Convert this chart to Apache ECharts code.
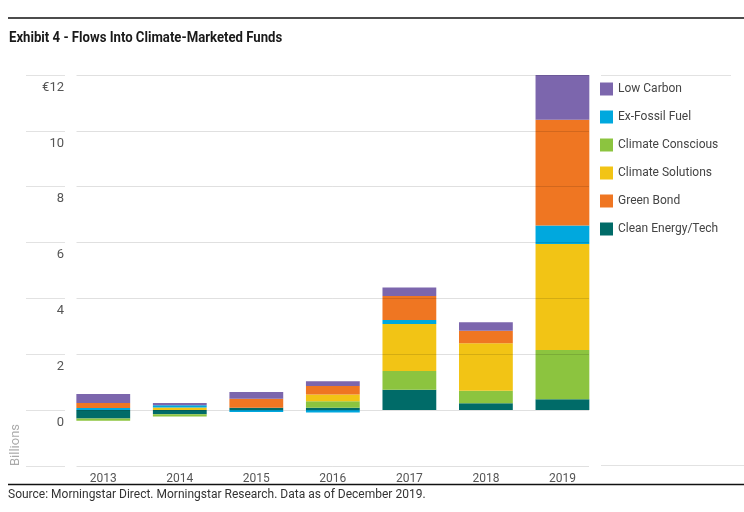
<!DOCTYPE html>
<html>
<head>
<meta charset="utf-8">
<script src="https://cdn.jsdelivr.net/npm/echarts@6/dist/echarts.min.js"></script>
<style>
html,body{margin:0;padding:0;background:#fff;}
#chart{width:744px;height:512px;}
</style>
</head>
<body>
<div id="chart"></div>
<script>
const years = ['2013','2014','2015','2016','2017','2018','2019'];
const cleanEnergy      = [-0.31, -0.15, 0.08, 0.08, 0.72, 0.24, 0.38];
const climateConscious = [-0.08, -0.08, 0,    0.23, 0.68, 0.45, 1.77];
const climateSolutions = [0,     0.09,  0,    0.24, 1.68, 1.70, 3.80];
const exFossil         = [0.07,  0.08, -0.07, -0.09, 0.14, 0,    0.66];
const greenBond        = [0.18,  0,     0.32, 0.31, 0.86, 0.45, 3.79];
const lowCarbon        = [0.32,  0.08,  0.24, 0.17, 0.31, 0.30, 1.61];
const yTicks = { min: -2, max: 12, interval: 2 };
const legendOrder = ['Low Carbon','Ex-Fossil Fuel','Climate Conscious','Climate Solutions','Green Bond','Clean Energy/Tech'];

const FONT = "Roboto, 'Liberation Sans', sans-serif";
const colors = {
  'Clean Energy/Tech': '#006b68',
  'Climate Conscious': '#8cc43f',
  'Climate Solutions': '#f2c415',
  'Ex-Fossil Fuel': '#00a8de',
  'Green Bond': '#ef7622',
  'Low Carbon': '#7c66ad'
};
const stackSeries = [
  ['Clean Energy/Tech', cleanEnergy],
  ['Climate Conscious', climateConscious],
  ['Climate Solutions', climateSolutions],
  ['Ex-Fossil Fuel', exFossil],
  ['Green Bond', greenBond],
  ['Low Carbon', lowCarbon]
];

const TOP = 75, BOTTOM = 512 - 465.8;
const chart = echarts.init(document.getElementById('chart'), null, {renderer:'canvas'});
const gridYAxis = (gi, color, z) => ({
  type:'value', gridIndex: gi, min: yTicks.min, max: yTicks.max, interval: yTicks.interval,
  axisLine:{show:false}, axisTick:{show:false}, axisLabel:{show:false},
  splitLine:{show:true, lineStyle:{color: color, width:1}}, z: z
});
chart.setOption({
  animation:false,
  grid:[
    {left:65, right:143.3, top:TOP, bottom:BOTTOM},
    {left:76.5, right:155, top:TOP, bottom:BOTTOM},
    {left:26, right:679, top:TOP, bottom:BOTTOM}
  ],
  legend:{
    orient:'vertical', left:600, top:82.5, padding:0,
    itemWidth:13, itemHeight:13, itemGap:15, icon:'rect',
    data: legendOrder,
    textStyle:{fontFamily:FONT, fontSize:12, color:'#444'}
  },
  xAxis:[
    {type:'category', gridIndex:0, data:years,
     axisLine:{show:false}, axisTick:{show:false},
     axisLabel:{fontFamily:FONT, fontSize:12, color:'#555', margin:7}},
    {type:'value', gridIndex:1, show:false, min:0, max:1},
    {type:'value', gridIndex:2, show:false, min:0, max:1}
  ],
  yAxis:[
    {type:'value', gridIndex:0, min:yTicks.min, max:yTicks.max, interval:yTicks.interval,
     axisLine:{show:false}, axisTick:{show:false}, splitLine:{show:false},
     axisLabel:{fontFamily:FONT, fontSize:13, color:'#555', margin:1, verticalAlign:'top', padding:[6,0,0,0],
       formatter: v => v === yTicks.min ? '' : (v === yTicks.max ? '€' + v : String(v))}},
    gridYAxis(1, 'rgba(0,0,0,0.12)', 5),
    gridYAxis(2, '#e2e2e2', 0)
  ],
  series: stackSeries.map(([name, data]) => ({
    name, type:'bar', stack:'flows', data,
    xAxisIndex:0, yAxisIndex:0, barWidth:'70.3%',
    itemStyle:{color: colors[name]}
  })),
  graphic:[
    {type:'line', shape:{x1:8,y1:18,x2:744,y2:18}, style:{stroke:'#111', lineWidth:1.5}},
    {type:'line', shape:{x1:8,y1:484.5,x2:744,y2:484.5}, style:{stroke:'#111', lineWidth:1.5}},
    {type:'line', shape:{x1:601,y1:75.5,x2:731,y2:75.5}, style:{stroke:'#e2e2e2', lineWidth:1}},
    {type:'line', shape:{x1:601,y1:465.5,x2:744,y2:465.5}, style:{stroke:'#e2e2e2', lineWidth:1}},
    {type:'text', x:9, y:38, scaleX:0.94,
     style:{text:'Exhibit 4 - Flows Into Climate-Marketed Funds', fontFamily:FONT, fontSize:14, fontWeight:'bold', fill:'#1a1a1a', verticalAlign:'middle'}},
    {type:'text', x:16, y:445, rotation:Math.PI/2,
     style:{text:'Billions', fontFamily:FONT, fontSize:13, fill:'#aaa', align:'center', verticalAlign:'middle'}},
    {type:'text', x:8, y:494.5,
     style:{text:'Source: Morningstar Direct. Morningstar Research. Data as of December 2019.', fontFamily:FONT, fontSize:12, fill:'#333', verticalAlign:'middle'}}
  ]
});
</script>
</body>
</html>
